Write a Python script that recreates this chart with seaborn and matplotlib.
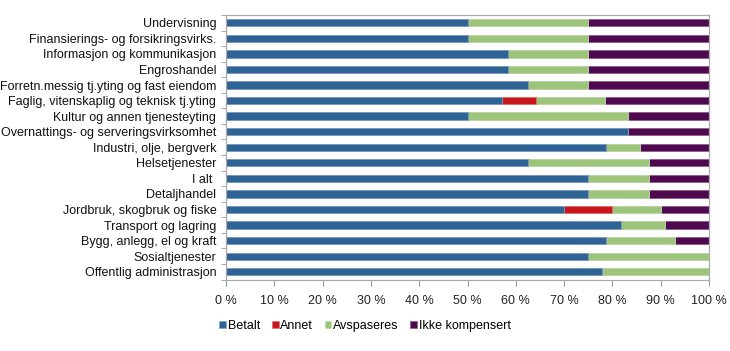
import matplotlib
matplotlib.use("Agg")
import matplotlib.pyplot as plt
import seaborn as sns
import numpy as np
import pandas as pd
from matplotlib.patches import Patch
from matplotlib.ticker import FixedLocator

categories = [
    "Undervisning",
    "Finansierings- og forsikringsvirks.",
    "Informasjon og kommunikasjon",
    "Engroshandel",
    "Forretn.messig tj.yting og fast eiendom",
    "Faglig, vitenskaplig og teknisk tj.yting",
    "Kultur og annen tjenesteyting",
    "Overnattings- og serveringsvirksomhet",
    "Industri, olje, bergverk",
    "Helsetjenester",
    "I alt ",
    "Detaljhandel",
    "Jordbruk, skogbruk og fiske",
    "Transport og lagring",
    "Bygg, anlegg, el og kraft",
    "Sosialtjenester",
    "Offentlig administrasjon",
]
betalt = [50.0, 50.0, 58.3, 58.3, 62.5, 57.1, 50.0, 83.3, 78.6, 62.5, 75.0, 75.0, 70.0, 81.8, 78.6, 75.0, 77.8]
annet = [0, 0, 0, 0, 0, 7.1, 0, 0, 0, 0, 0, 0, 10.0, 0, 0, 0, 0]
avspaseres = [25.0, 25.0, 16.7, 16.7, 12.5, 14.3, 33.3, 0, 7.1, 25.0, 12.5, 12.5, 10.0, 9.1, 14.3, 25.0, 22.2]
ikke_kompensert = [25.0, 25.0, 25.0, 25.0, 25.0, 21.4, 16.7, 16.7, 14.3, 12.5, 12.5, 12.5, 10.0, 9.1, 7.1, 0, 0]
series_names = ["Betalt", "Annet", "Avspaseres", "Ikke kompensert"]
x_ticks = [0, 10, 20, 30, 40, 50, 60, 70, 80, 90, 100]
x_tick_labels = ["0 %", "10 %", "20 %", "30 %", "40 %", "50 %", "60 %", "70 %", "80 %", "90 %", "100 %"]

colors = ["#2E6396", "#C8161D", "#9CC57A", "#4F0A4F"]
edges = ["#7FA3C8", "#E07070", "#C6E0AE", "#8E5A8E"]

plt.rcParams["font.family"] = ["Liberation Sans", "DejaVu Sans"]

fig = plt.figure(figsize=(7.30, 3.51), dpi=100)
ax = fig.add_axes([226/730, 1 - 279.5/351, (709 - 226)/730, (279.5 - 15)/351])

vals = np.array([betalt, annet, avspaseres, ikke_kompensert])
cums = np.cumsum(vals, axis=0)
df = pd.DataFrame({"cat": categories})
for i in range(3, -1, -1):
    df["v"] = cums[i]
    sns.barplot(data=df, x="v", y="cat", orient="h", color=colors[i],
                width=0.47, ax=ax, edgecolor=edges[i], linewidth=0.6,
                saturation=1)

ax.set_xlim(0, 100)
ax.set_ylim(16.5, -0.5)
ax.set_xlabel("")
ax.set_ylabel("")
ax.set_xticks(x_ticks)
ax.set_xticklabels(x_tick_labels, fontsize=9, color="#222222")
ax.tick_params(axis="x", length=4, color="#999999", pad=7)
ax.tick_params(axis="y", which="major", length=0, labelsize=9, pad=7, labelcolor="#111111")
ax.yaxis.set_minor_locator(FixedLocator(np.arange(-0.5, 17, 1)))
ax.tick_params(axis="y", which="minor", length=3.5, color="#999999")
for s in ax.spines.values():
    s.set_color("#AAAAAA")
    s.set_linewidth(0.9)
ax.grid(False)

handles = [Patch(facecolor=colors[i], edgecolor=edges[i], linewidth=0.5) for i in range(4)]
fig.legend(handles, series_names, loc="center left", bbox_to_anchor=(208/730, 1 - 326/351),
           ncol=4, frameon=False, fontsize=9, handlelength=0.55, handleheight=0.55,
           handletextpad=0.15, columnspacing=0.9)

fig.savefig("out.png", dpi=100)
